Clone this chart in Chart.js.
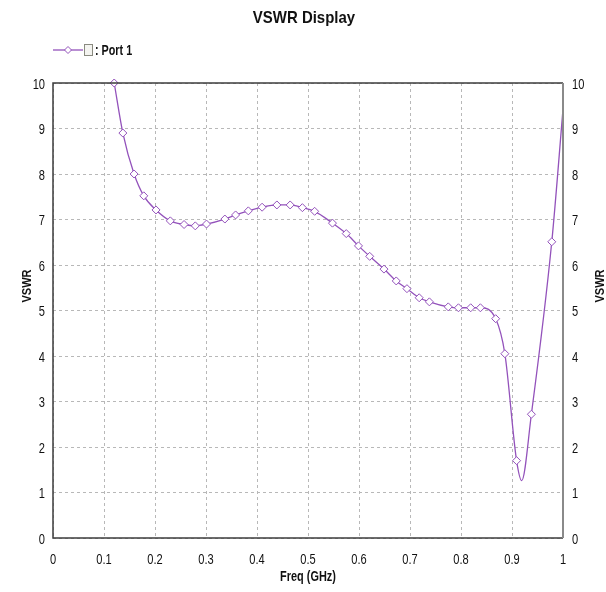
<!DOCTYPE html>
<html>
<head>
<meta charset="utf-8">
<script src="https://cdn.jsdelivr.net/npm/chart.js@4.4.1/dist/chart.umd.min.js"></script>
<style>
  html, body { margin: 0; padding: 0; background: #ffffff; }
  #wrap { width: 606px; height: 592px; position: relative; }
</style>
</head>
<body>
<div id="wrap"><canvas id="c" width="606" height="592"></canvas></div>
<script>
// ---- data ----
const chartTitle = "VSWR Display";
const seriesName = "Port 1";
const xTitle = "Freq (GHz)";
const yTitle = "VSWR";

// sampled points (drawn with diamond markers)
const freqMarked = [0.120, 0.137, 0.159, 0.178, 0.202, 0.230, 0.257, 0.279, 0.301, 0.337,
                    0.358, 0.383, 0.410, 0.439, 0.465, 0.489, 0.513, 0.548, 0.575, 0.599,
                    0.621, 0.649, 0.673, 0.694, 0.718, 0.738, 0.775, 0.795, 0.819, 0.838,
                    0.868, 0.886, 0.909, 0.938, 0.978];
const vswrMarked = [10.00, 8.90, 8.00, 7.52, 7.21, 6.97, 6.89, 6.86, 6.90, 7.01,
                    7.10, 7.19, 7.27, 7.32, 7.32, 7.26, 7.18, 6.92, 6.69, 6.42,
                    6.19, 5.91, 5.65, 5.48, 5.28, 5.19, 5.08, 5.06, 5.06, 5.06,
                    4.82, 4.05, 1.70, 2.72, 6.51];
// extra points of the curve without markers
const freqCurveOnly = [0.919, 1.000];
const vswrCurveOnly = [1.26, 9.42];

const xTicks = [0, 0.1, 0.2, 0.3, 0.4, 0.5, 0.6, 0.7, 0.8, 0.9, 1];
const yTicks = [0, 1, 2, 3, 4, 5, 6, 7, 8, 9, 10];

// ---- build datasets ----
const markerPts = freqMarked.map((f, i) => ({ x: f, y: vswrMarked[i] }));
const curvePts = markerPts
  .concat(freqCurveOnly.map((f, i) => ({ x: f, y: vswrCurveOnly[i] })))
  .sort((a, b) => a.x - b.x);

const PURPLE = '#9352bb';
const FONT = "'Liberation Sans', Arial, sans-serif";

function txt(ctx, s, x, y, font, sx, align, baseline, rot) {
  ctx.save();
  ctx.translate(x, y);
  if (rot) ctx.rotate(rot);
  ctx.scale(sx, 1);
  ctx.font = font;
  ctx.textAlign = align;
  ctx.textBaseline = baseline;
  ctx.fillStyle = '#111';
  ctx.fillText(s, 0, 0);
  ctx.restore();
}

const decor = {
  id: 'decor',
  afterDraw(chart) {
    const ctx = chart.ctx;
    const a = chart.chartArea;
    const xs = chart.scales.x, ys = chart.scales.y, ys2 = chart.scales.y2;
    ctx.save();
    // frame
    ctx.lineWidth = 1.5;
    ctx.strokeStyle = '#3c3c3c';
    ctx.beginPath();
    ctx.moveTo(a.right, a.top); ctx.lineTo(a.left, a.top);
    ctx.lineTo(a.left, a.bottom); ctx.lineTo(a.right, a.bottom);
    ctx.stroke();
    ctx.lineWidth = 2;
    ctx.strokeStyle = '#8a8a8a';
    ctx.beginPath();
    ctx.moveTo(a.right, a.top); ctx.lineTo(a.right, a.bottom);
    ctx.stroke();

    // tick labels through the scales
    const tickFont = "15px " + FONT;
    xs.ticks.forEach(t => {
      txt(ctx, String(t.value), xs.getPixelForValue(t.value), 560, tickFont, 0.74, 'center', 'middle');
    });
    ys.ticks.forEach(t => {
      txt(ctx, String(t.value), 45, ys.getPixelForValue(t.value) + 1.5, tickFont, 0.74, 'right', 'middle');
    });
    ys2.ticks.forEach(t => {
      txt(ctx, String(t.value), 572, ys2.getPixelForValue(t.value) + 1.5, tickFont, 0.74, 'left', 'middle');
    });

    // axis titles
    const axFont = "bold 13px " + FONT;
    txt(ctx, xTitle, (a.left + a.right) / 2, 577, "bold 14px " + FONT, 0.78, 'center', 'middle');
    txt(ctx, yTitle, 27, 286, axFont, 0.85, 'center', 'middle', -Math.PI / 2);
    txt(ctx, yTitle, 600, 286, axFont, 0.85, 'center', 'middle', -Math.PI / 2);

    // title
    txt(ctx, chartTitle, 304, 23, "bold 17px " + FONT, 0.88, 'center', 'alphabetic');

    // legend
    const ly = 50;
    ctx.strokeStyle = PURPLE;
    ctx.lineWidth = 1.3;
    ctx.beginPath(); ctx.moveTo(53, ly); ctx.lineTo(83, ly); ctx.stroke();
    ctx.fillStyle = '#fff';
    ctx.lineWidth = 1;
    ctx.beginPath();
    ctx.moveTo(68 - 3.5, ly); ctx.lineTo(68, ly - 3.5); ctx.lineTo(68 + 3.5, ly); ctx.lineTo(68, ly + 3.5);
    ctx.closePath(); ctx.fill(); ctx.stroke();
    ctx.fillStyle = '#f4f4f0';
    ctx.fillRect(84.5, 44.5, 8, 11);
    ctx.strokeStyle = '#8a8a80';
    ctx.lineWidth = 1;
    ctx.strokeRect(84.5, 44.5, 8, 11);
    txt(ctx, ': ' + seriesName, 95, ly + 1, "bold 14px " + FONT, 0.77, 'left', 'middle');
    ctx.restore();
  }
};

new Chart(document.getElementById('c'), {
  type: 'line',
  data: {
    datasets: [
      {
        label: seriesName,
        data: curvePts,
        borderColor: PURPLE,
        borderWidth: 1.3,
        pointRadius: 0,
        fill: false,
        cubicInterpolationMode: 'monotone',
        order: 2
      },
      {
        label: seriesName + ' markers',
        data: markerPts,
        showLine: false,
        pointStyle: 'rectRot',
        pointRadius: 4,
        pointBorderWidth: 1,
        pointBorderColor: PURPLE,
        pointBackgroundColor: '#ffffff',
        order: 1
      }
    ]
  },
  options: {
    responsive: false,
    animation: false,
    clip: false,
    layout: { padding: { top: 83, left: 0, right: 0, bottom: 0 } },
    plugins: {
      legend: { display: false },
      title: { display: false },
      tooltip: { enabled: false }
    },
    scales: {
      x: {
        type: 'linear',
        min: 0, max: 1,
        afterBuildTicks: (s) => { s.ticks = xTicks.map(v => ({ value: v })); },
        afterFit: (s) => { s.height = 54; },
        border: { display: false, dash: [3, 3] },
        grid: { color: '#b8b8b8', lineWidth: 1, drawTicks: false },
        ticks: { display: false }
      },
      y: {
        type: 'linear', position: 'left',
        min: 0, max: 10,
        afterBuildTicks: (s) => { s.ticks = yTicks.map(v => ({ value: v })); },
        afterFit: (s) => { s.width = 53; },
        border: { display: false, dash: [3, 3] },
        grid: { color: '#b8b8b8', lineWidth: 1, drawTicks: false },
        ticks: { display: false }
      },
      y2: {
        type: 'linear', position: 'right',
        min: 0, max: 10,
        afterBuildTicks: (s) => { s.ticks = yTicks.map(v => ({ value: v })); },
        afterFit: (s) => { s.width = 43; },
        border: { display: false },
        grid: { display: false, drawTicks: false },
        ticks: { display: false }
      }
    }
  },
  plugins: [decor]
});
</script>
</body>
</html>
